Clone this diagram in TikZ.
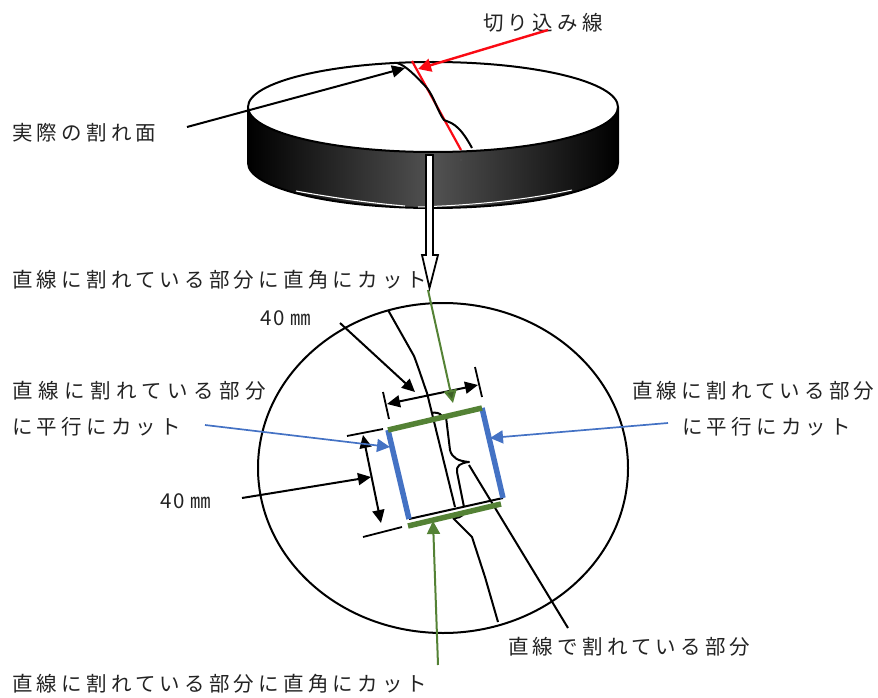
\documentclass[tikz,border=0pt]{standalone}
\usepackage{fontspec}
\usetikzlibrary{arrows.meta,calc}
\newfontfamily\cjk[LetterSpace=20.5]{Noto Sans CJK JP}
\newfontfamily\cjkwide[LetterSpace=27]{Noto Sans CJK JP}
\newfontfamily\cjkmm[LetterSpace=7]{Noto Sans CJK JP}
\definecolor{cutred}{RGB}{250,10,20}
\definecolor{cutgreen}{RGB}{84,130,53}
\definecolor{darkgreen}{RGB}{62,96,40}
\definecolor{cutblue}{RGB}{68,114,196}
\definecolor{inkgray}{RGB}{35,35,35}
\tikzset{
 lab/.style={anchor=west,inner sep=0pt,text=inkgray,font=\fontsize{20.5}{24}\selectfont\cjk},
 labwide/.style={lab,font=\fontsize{20.5}{24}\selectfont\cjkwide},
 labmm/.style={lab,font=\fontsize{20.5}{24}\selectfont\cjkmm},
 crack/.style={draw=black,line width=2pt,line join=round},
 lead/.style={draw=black,line width=2pt,-{Triangle[length=13pt,width=12pt]}},
 dimline/.style={draw=black,line width=2pt,{Triangle[length=13pt,width=12pt]}-{Triangle[length=13pt,width=12pt]}},
 tick/.style={draw=black,line width=1.8pt},
 redlead/.style={draw=cutred,line width=2.4pt,-{Triangle[length=13pt,width=13pt]}},
 greenlead/.style={draw=cutgreen,line width=2pt,-{Triangle[length=13pt,width=13pt,fill=#1]}},
 bluelead/.style={draw=cutblue,line width=1.7pt,-{Triangle[length=13pt,width=13pt]}},
 greencut/.style={draw=cutgreen,line width=5.5pt},
 bluecut/.style={draw=cutblue,line width=5.5pt},
}
\begin{document}
\begin{tikzpicture}[x=1pt,y=-1pt]
\useasboundingbox (0,0) rectangle (878,698);
% disk
\path[left color=black,right color=black,middle color=black!68]
  (248,107) -- (248,163) arc[x radius=185,y radius=45,start angle=180,end angle=0] -- (618,107) -- cycle;
\draw[line width=2pt] (248,107) -- (248,163) arc[x radius=185,y radius=45,start angle=180,end angle=0] -- (618,107);
\draw[white,line width=1.1pt] (296,191) .. controls (340,199) and (380,204) .. (405,206);
\draw[white,line width=1pt] (418,207) .. controls (480,205) and (530,199) .. (572,190);
\draw[black,fill=white,line width=2pt] (433,107) ellipse [x radius=185,y radius=45];
\fill[black!70] (461,160) circle (1.2);
% cut line and crack on disk
\coordinate (redA) at (412,61);
\coordinate (redB) at (461,150);
\draw[cutred,line width=2.2pt] (redA) -- (redB);
\draw[crack] (397,63) .. controls (405,65) and (415,75) .. (427,88)
  .. controls (434,97) and (438,112) .. (444,120)
  .. controls (450,123) and (458,122) .. (472,148);
% white arrow
\coordinate (wTip) at (429.5,288);
\draw[black,fill=white,line width=1.8pt,line join=miter]
 (426,155) -- (433,155) -- (433,255) -- (438,255) -- (wTip) -- (422,255) -- (426,255) -- cycle;
% big circle
\draw[black,line width=2pt] (443,468) ellipse [x radius=185,y radius=165];
% crack lines
\draw[crack] (388,310) -- (414,356) .. controls (420,372) and (424,385) .. (427,393) -- (455,507);
\draw[crack] (446,417) -- (450,450) .. controls (452,458) and (458,461) .. (469,462)
  .. controls (460,463) and (456,466) .. (457,472) -- (464,507);
\draw[crack] (431,413) .. controls (436,412) and (440,413) .. (442,416);
\draw[crack] (453,518) .. controls (458,518) and (461,517) .. (463,515);
\draw[crack] (453,518) -- (472,537) -- (485,577) -- (498,622);
\coordinate (sA) at (469,465);
\coordinate (sB) at (568,628);
\draw[crack] (sA) -- (sB);
% sample frame
\coordinate (p1) at (388,430);
\coordinate (p2) at (482,408);
\coordinate (p3) at (503,498);
\coordinate (p4) at (409,519);
\coordinate (g1) at (408,526);
\coordinate (g2) at (501,504);
\draw[crack] (p4) -- (p3);
\draw[bluecut] (p1) -- (p4);
\draw[bluecut] (p2) -- (p3);
\draw[greencut] (p1) -- (p2);
\draw[greencut] (g1) -- (g2);
% dimensions
\coordinate (dA) at (387,404); \coordinate (dB) at (478,385);
\coordinate (t1) at (383,392); \coordinate (t2) at (389,419);
\coordinate (t3) at (475,367); \coordinate (t4) at (482,397);
\draw[dimline] (dA) -- (dB);
\draw[tick] (t1) -- (t2);
\draw[tick] (t3) -- (t4);
\coordinate (eA) at (363,435); \coordinate (eB) at (381,523);
\coordinate (u1) at (347,436); \coordinate (u2) at (383,429);
\coordinate (u3) at (363,537); \coordinate (u4) at (402,527);
\draw[dimline] (eA) -- (eB);
\draw[tick] (u1) -- (u2);
\draw[tick] (u3) -- (u4);
% labels
\node[lab] (cutlab) at (483,23) {切り込み線};
\node[lab] (actual) at (12,133) {実際の割れ面};
\node[lab] (perpT) at (12,280) {直線に割れている部分に直角にカット};
\node[lab] (perpB) at (12,684) {直線に割れている部分に直角にカット};
\node[labwide] (parL1) at (12,391) {直線に割れている部分};
\node[lab] (parL2) at (12,427) {に平行にカット};
\node[lab] (parR1) at (632,391) {直線に割れている部分};
\node[lab] (parR2) at (682,427) {に平行にカット};
\node[lab] (straight) at (508,647) {直線で割れている部分};
\node[labmm] (mmT) at (260,318) {40 ㎜};
\node[labmm] (mmL) at (160,501) {40 ㎜};
% leaders
\coordinate (a1) at (187,127); \coordinate (a1e) at (405,68);
\draw[lead] (a1) -- (a1e);
\coordinate (r1) at (548,30); \coordinate (r1e) at (418,69);
\draw[redlead] (r1) -- (r1e);
\coordinate (m1) at (340,323); \coordinate (m1e) at (415,392);
\draw[lead] (m1) -- (m1e);
\coordinate (m2) at (242,498); \coordinate (m2e) at (371,477);
\draw[lead] (m2) -- (m2e);
\coordinate (gt) at (428,290); \coordinate (gte) at (453,403);
\draw[greenlead=darkgreen] (gt) -- (gte);
\coordinate (gb) at (438,665); \coordinate (gbe) at (433,521);
\draw[greenlead=cutgreen] (gb) -- (gbe);
\coordinate (bl) at (205,425); \coordinate (ble) at (390,447);
\draw[bluelead] (bl) -- (ble);
\coordinate (br) at (668,423); \coordinate (bre) at (490,438);
\draw[bluelead] (br) -- (bre);
\end{tikzpicture}
\end{document}
